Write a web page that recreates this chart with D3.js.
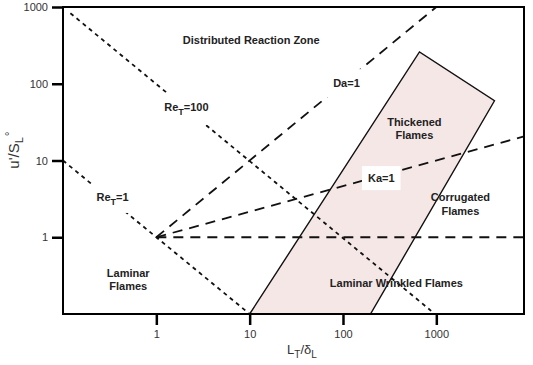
<!DOCTYPE html>
<html>
<head>
<meta charset="utf-8">
<script src="https://cdn.jsdelivr.net/npm/d3@7"></script>
<style>
  body { margin: 0; background: #fff; }
  text { font-family: "Liberation Sans", Arial, sans-serif; }
</style>
</head>
<body>
<div id="chart"></div>
<script>
// 坐标刻度
var xTicks = [1, 10, 100, 1000];
var yTicks = [1, 10, 100, 1000];

// 各条分界线 (L_T/δ_L, u'/S_L)
var reT1 = [[0.1, 10], [10, 0.1]];
var reT100 = [[0.12, 830], [880, 0.11]];
var da1 = [[1, 1], [1000, 1000]];
var ka1 = [[1, 1], [8700, 20.6]];
var unity = [[1, 1], [8700, 1]];

// 阴影区 (flamelet 区域)
var flameZone = [[10, 0.1], [660, 260], [4200, 60], [197, 0.1]];

// 区域标签
var regionLabels = [
  { lines: ["Distributed Reaction Zone"], at: [10.4, 371] },
  { lines: ["Laminar", "Flames"], at: [0.5, 0.28] },
  { lines: ["Laminar Wrinkled Flames"], at: [373, 0.254] },
  { lines: ["Thickened", "Flames"], at: [582, 25.7] },
  { lines: ["Corrugated", "Flames"], at: [1811, 2.7] }
];

var w = 533, h = 365;
var pLeft = 63, pRight = 524, pTop = 7, pBottom = 314;

var x = d3.scaleLog().domain([0.1, 8700]).range([pLeft, pRight]);
var y = d3.scaleLog().domain([0.1, 1000]).range([pBottom, pTop]);

var svg = d3.select("#chart").append("svg").attr("width", w).attr("height", h);

var line = d3.line()
    .x(function (d) { return x(d[0]); })
    .y(function (d) { return y(d[1]); });

// 阴影区
svg.append("path").attr("d", line(flameZone) + "Z")
    .attr("fill", "#f6e7e7").attr("stroke", "#111").attr("stroke-width", 1.4)
    .attr("stroke-linejoin", "miter");

// 虚线 (Re_T)
[reT1, reT100].forEach(function (d) {
  svg.append("path").attr("d", line(d)).attr("fill", "none")
      .attr("stroke", "#111").attr("stroke-width", 1.8)
      .attr("stroke-dasharray", "4,4");
});
// 长虚线 (Da, Ka, u'/S_L=1)
[da1, ka1, unity].forEach(function (d) {
  svg.append("path").attr("d", line(d)).attr("fill", "none")
      .attr("stroke", "#111").attr("stroke-width", 1.8)
      .attr("stroke-dasharray", "10,7");
});

// 边框
svg.append("rect").attr("x", pLeft).attr("y", pTop)
    .attr("width", pRight - pLeft).attr("height", pBottom - pTop)
    .attr("fill", "none").attr("stroke", "#000").attr("stroke-width", 2);

// 坐标轴
var xAxis = svg.append("g").attr("transform", "translate(0," + pBottom + ")")
    .call(d3.axisBottom(x).tickValues(xTicks).tickFormat(d3.format("d")).tickSize(11).tickPadding(5));
var yAxis = svg.append("g").attr("transform", "translate(" + pLeft + ",0)")
    .call(d3.axisLeft(y).tickValues(yTicks).tickFormat(d3.format("d")).tickSize(11).tickPadding(4));
[xAxis, yAxis].forEach(function (g) {
  g.select(".domain").remove();
  g.selectAll(".tick line").attr("stroke", "#000").attr("stroke-width", 2.5);
  g.selectAll(".tick text").attr("font-size", 11).attr("fill", "#333")
      .attr("font-family", "Liberation Sans, Arial, sans-serif");
});

// 区域文字
regionLabels.forEach(function (lab) {
  var t = svg.append("text").attr("x", x(lab.at[0])).attr("y", y(lab.at[1]))
      .attr("text-anchor", "middle").attr("font-size", 11).attr("font-weight", "bold")
      .attr("fill", "#222");
  var n = lab.lines.length;
  lab.lines.forEach(function (s, i) {
    t.append("tspan").attr("x", x(lab.at[0]))
        .attr("dy", i == 0 ? ((1 - n) * 0.6 + 0.35) + "em" : "1.2em").text(s);
  });
});

// 线上标签 (白底遮住线)
function lineLabel(parts, at, padX, padY) {
  var g = svg.append("g");
  var bg = g.append("rect").attr("fill", "#fff");
  var t = g.append("text").attr("x", x(at[0])).attr("y", y(at[1]) + 4)
      .attr("text-anchor", "middle").attr("font-size", 11).attr("font-weight", "bold").attr("fill", "#222");
  parts.forEach(function (p) {
    var s = t.append("tspan").text(p.text);
    if (p.dy) s.attr("dy", p.dy);
    if (p.size) s.attr("font-size", p.size);
  });
  var b = t.node().getBBox();
  bg.attr("x", b.x - padX).attr("y", b.y - padY)
      .attr("width", b.width + padX * 2).attr("height", b.height + padY * 2);
}
lineLabel([{ text: "Re" }, { text: "T", dy: 4, size: 9 }, { text: "=1", dy: -4 }], [0.34, 3.35], 6, 6);
lineLabel([{ text: "Re" }, { text: "T", dy: 4, size: 9 }, { text: "=100", dy: -4 }], [2.1, 50], 6, 8);
lineLabel([{ text: "Da=1" }], [109, 102], 8, 8);
lineLabel([{ text: "Ka=1" }], [257, 5.9], 6, 6);

// 轴标题
var yt = svg.append("text").attr("transform", "translate(19,150) rotate(-90)")
    .attr("text-anchor", "middle").attr("font-size", 15).attr("fill", "#333");
yt.append("tspan").text("u'/S");
yt.append("tspan").attr("dy", 4).attr("font-size", 11).text("L");
yt.append("tspan").attr("dx", 1).attr("dy", -9).attr("font-size", 12).text("°");

var xt = svg.append("text").attr("x", 302).attr("y", 354)
    .attr("text-anchor", "middle").attr("font-size", 13).attr("fill", "#333");
xt.append("tspan").text("L");
xt.append("tspan").attr("dy", 4).attr("font-size", 10).text("T");
xt.append("tspan").attr("dy", -4).text("/δ");
xt.append("tspan").attr("dy", 4).attr("font-size", 10).text("L");
</script>
</body>
</html>
